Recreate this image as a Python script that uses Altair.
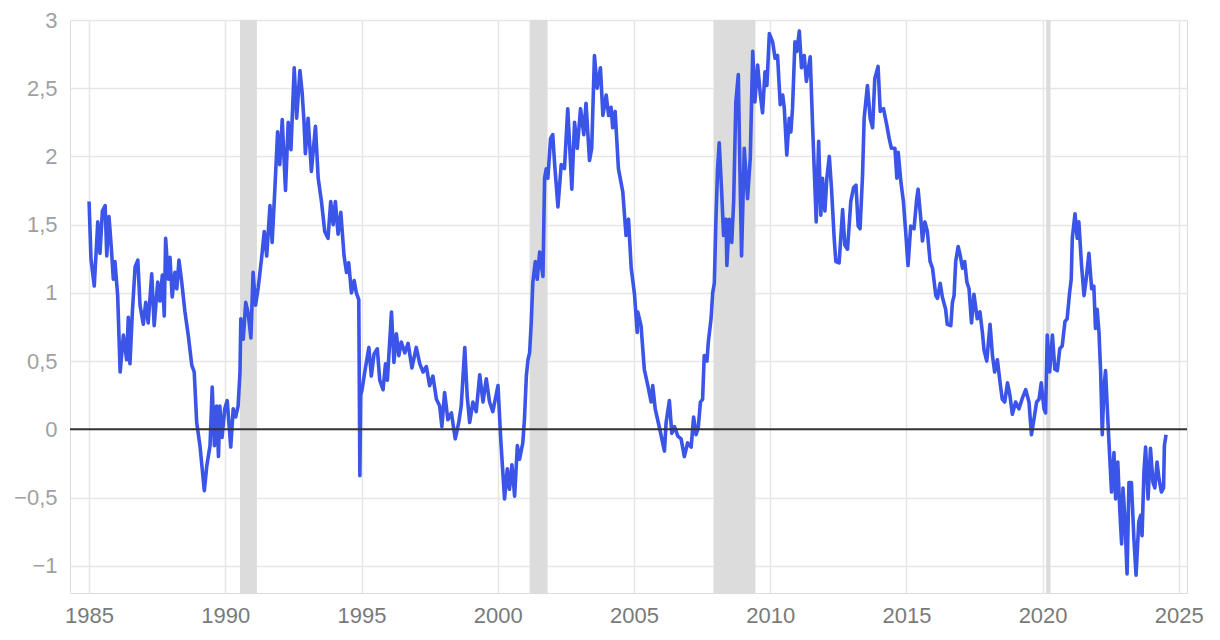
import altair as alt
import pandas as pd

# Decimal year of each reading and the spread value (percentage points)
years = [
    1985.00, 1985.07, 1985.19, 1985.32, 1985.40, 1985.49, 1985.59, 1985.65, 1985.73, 1985.81,
    1985.89, 1985.95, 1986.05, 1986.14, 1986.26, 1986.38, 1986.44, 1986.50, 1986.59, 1986.69,
    1986.79, 1986.87, 1986.99, 1987.08, 1987.17, 1987.30, 1987.39, 1987.52, 1987.60, 1987.69,
    1987.76, 1987.81, 1987.91, 1987.97, 1988.05, 1988.15, 1988.22, 1988.30, 1988.40, 1988.52,
    1988.64, 1988.77, 1988.86, 1988.95, 1989.07, 1989.23, 1989.32, 1989.44, 1989.52, 1989.60,
    1989.68, 1989.75, 1989.80, 1989.88, 1989.98, 1990.07, 1990.20, 1990.29, 1990.38, 1990.47,
    1990.54, 1990.57, 1990.66, 1990.75, 1990.84, 1990.94, 1991.02, 1991.11, 1991.21, 1991.33,
    1991.43, 1991.52, 1991.64, 1991.72, 1991.82, 1991.92, 1992.00, 1992.09, 1992.21, 1992.31,
    1992.41, 1992.53, 1992.62, 1992.74, 1992.82, 1992.89, 1992.94, 1993.04, 1993.16, 1993.31,
    1993.41, 1993.53, 1993.65, 1993.77, 1993.87, 1993.96, 1994.04, 1994.14, 1994.24, 1994.36,
    1994.45, 1994.53, 1994.63, 1994.73, 1994.81, 1994.90, 1994.94, 1994.97, 1995.02, 1995.12,
    1995.27, 1995.36, 1995.46, 1995.58, 1995.67, 1995.79, 1995.88, 1995.95, 1996.10, 1996.19,
    1996.28, 1996.37, 1996.46, 1996.59, 1996.71, 1996.85, 1997.01, 1997.14, 1997.26, 1997.38,
    1997.50, 1997.62, 1997.75, 1997.87, 1997.95, 1998.05, 1998.17, 1998.30, 1998.44, 1998.57,
    1998.66, 1998.79, 1998.88, 1998.97, 1999.09, 1999.21, 1999.34, 1999.46, 1999.58, 1999.70,
    1999.82, 2000.01, 2000.11, 2000.15, 2000.25, 2000.35, 2000.43, 2000.52, 2000.62, 2000.72,
    2000.80, 2000.92, 2000.98, 2001.05, 2001.11, 2001.17, 2001.23, 2001.29, 2001.38, 2001.45,
    2001.54, 2001.66, 2001.72, 2001.78, 2001.84, 2001.94, 2002.02, 2002.09, 2002.21, 2002.33,
    2002.45, 2002.57, 2002.67, 2002.72, 2002.82, 2002.92, 2003.04, 2003.16, 2003.24, 2003.37,
    2003.45, 2003.55, 2003.65, 2003.77, 2003.86, 2003.98, 2004.07, 2004.16, 2004.22, 2004.31,
    2004.43, 2004.59, 2004.71, 2004.80, 2004.90, 2005.02, 2005.12, 2005.14, 2005.26, 2005.38,
    2005.51, 2005.63, 2005.69, 2005.78, 2005.87, 2005.97, 2006.12, 2006.18, 2006.30, 2006.39,
    2006.49, 2006.61, 2006.73, 2006.85, 2006.97, 2007.10, 2007.19, 2007.28, 2007.36, 2007.44,
    2007.52, 2007.58, 2007.68, 2007.73, 2007.83, 2007.89, 2007.95, 2008.01, 2008.07, 2008.13,
    2008.22, 2008.29, 2008.38, 2008.41, 2008.50, 2008.59, 2008.66, 2008.74, 2008.83, 2008.90,
    2008.95, 2009.05, 2009.17, 2009.27, 2009.36, 2009.44, 2009.54, 2009.64, 2009.72, 2009.81,
    2009.88, 2009.97, 2010.09, 2010.18, 2010.27, 2010.37, 2010.46, 2010.52, 2010.61, 2010.70,
    2010.76, 2010.82, 2010.91, 2010.98, 2011.07, 2011.15, 2011.25, 2011.33, 2011.47, 2011.56,
    2011.64, 2011.69, 2011.78, 2011.86, 2011.92, 2012.01, 2012.08, 2012.17, 2012.25, 2012.35,
    2012.41, 2012.53, 2012.66, 2012.74, 2012.84, 2012.96, 2013.06, 2013.15, 2013.23, 2013.30,
    2013.39, 2013.45, 2013.57, 2013.67, 2013.76, 2013.84, 2013.96, 2014.04, 2014.16, 2014.28,
    2014.37, 2014.45, 2014.58, 2014.65, 2014.70, 2014.80, 2014.89, 2014.98, 2015.06, 2015.16,
    2015.28, 2015.38, 2015.43, 2015.53, 2015.59, 2015.68, 2015.77, 2015.87, 2015.96, 2016.08,
    2016.14, 2016.24, 2016.32, 2016.44, 2016.50, 2016.63, 2016.69, 2016.75, 2016.81, 2016.90,
    2016.97, 2017.06, 2017.14, 2017.22, 2017.30, 2017.39, 2017.48, 2017.60, 2017.70, 2017.79,
    2017.85, 2017.95, 2018.07, 2018.16, 2018.24, 2018.34, 2018.44, 2018.52, 2018.61, 2018.71,
    2018.80, 2018.89, 2019.01, 2019.13, 2019.26, 2019.38, 2019.50, 2019.59, 2019.68, 2019.78,
    2019.87, 2019.95, 2020.05, 2020.11, 2020.17, 2020.26, 2020.36, 2020.45, 2020.54, 2020.63,
    2020.72, 2020.82, 2020.90, 2020.99, 2021.05, 2021.09, 2021.19, 2021.27, 2021.33, 2021.43,
    2021.52, 2021.60, 2021.70, 2021.80, 2021.88, 2021.94, 2022.00, 2022.07, 2022.13, 2022.19,
    2022.25, 2022.31, 2022.40, 2022.46, 2022.53, 2022.62, 2022.68, 2022.76, 2022.83, 2022.90,
    2022.95, 2023.02, 2023.10, 2023.17, 2023.26, 2023.35, 2023.43, 2023.53, 2023.60, 2023.65,
    2023.72, 2023.78, 2023.87, 2023.96, 2024.05, 2024.12, 2024.20, 2024.27, 2024.36, 2024.44,
    2024.47, 2024.53,
]

spread = [
    1.67, 1.25, 1.05, 1.52, 1.29, 1.60, 1.64, 1.27, 1.56, 1.35,
    1.10, 1.23, 0.98, 0.42, 0.69, 0.51, 0.82, 0.48, 0.86, 1.19,
    1.24, 0.91, 0.77, 0.93, 0.78, 1.14, 0.76, 1.08, 0.94, 1.13,
    0.83, 1.40, 1.10, 1.26, 0.97, 1.15, 1.03, 1.24, 1.08, 0.86,
    0.69, 0.47, 0.42, 0.05, -0.12, -0.45, -0.27, -0.12, 0.31, -0.12,
    0.17, -0.20, 0.17, -0.06, 0.15, 0.21, -0.13, 0.15, 0.09, 0.17,
    0.42, 0.81, 0.66, 0.93, 0.85, 0.67, 1.15, 0.91, 1.04, 1.25,
    1.45, 1.27, 1.64, 1.37, 1.76, 2.18, 1.94, 2.27, 1.75, 2.25,
    2.05, 2.65, 2.28, 2.63, 2.47, 2.25, 2.02, 2.28, 1.89, 2.22,
    1.84, 1.67, 1.45, 1.40, 1.67, 1.50, 1.67, 1.43, 1.59, 1.27,
    1.15, 1.22, 1.00, 1.09, 1.00, 0.95, -0.34, 0.25, 0.29, 0.42,
    0.60, 0.39, 0.55, 0.59, 0.36, 0.29, 0.48, 0.36, 0.86, 0.49,
    0.70, 0.54, 0.64, 0.56, 0.63, 0.45, 0.60, 0.48, 0.42, 0.46,
    0.32, 0.39, 0.22, 0.17, 0.02, 0.27, 0.07, 0.12, -0.07, 0.05,
    0.17, 0.60, 0.24, 0.05, 0.20, 0.13, 0.40, 0.20, 0.37, 0.20,
    0.13, 0.32, -0.07, -0.20, -0.51, -0.29, -0.44, -0.26, -0.49, -0.12,
    -0.22, -0.10, 0.07, 0.39, 0.51, 0.56, 0.78, 1.08, 1.23, 1.10,
    1.30, 1.12, 1.84, 1.91, 1.84, 2.13, 2.16, 1.94, 1.63, 1.94,
    1.91, 2.35, 1.96, 1.76, 2.25, 2.06, 2.35, 2.16, 2.39, 1.97,
    2.06, 2.74, 2.50, 2.65, 2.30, 2.45, 2.30, 2.36, 2.21, 2.33,
    1.91, 1.74, 1.42, 1.54, 1.18, 0.99, 0.71, 0.86, 0.76, 0.44,
    0.32, 0.20, 0.32, 0.15, 0.07, -0.02, -0.16, 0.05, 0.21, -0.03,
    0.02, -0.05, -0.07, -0.20, -0.10, -0.13, 0.09, -0.04, 0.01, 0.20,
    0.22, 0.54, 0.50, 0.64, 0.81, 1.00, 1.07, 1.54, 1.91, 2.10,
    1.74, 1.42, 1.54, 1.20, 1.54, 1.37, 1.67, 2.40, 2.60, 1.79,
    1.27, 2.06, 1.69, 1.99, 2.77, 2.40, 2.67, 2.45, 2.32, 2.62,
    2.52, 2.90, 2.84, 2.72, 2.74, 2.38, 2.45, 2.35, 2.01, 2.28,
    2.18, 2.35, 2.84, 2.77, 2.92, 2.65, 2.74, 2.55, 2.73, 2.21,
    1.79, 1.52, 2.11, 1.57, 1.84, 1.60, 1.84, 2.00, 1.77, 1.40,
    1.23, 1.22, 1.61, 1.35, 1.32, 1.67, 1.77, 1.79, 1.49, 1.47,
    1.86, 2.28, 2.52, 2.28, 2.21, 2.57, 2.66, 2.33, 2.35, 2.23,
    2.13, 2.06, 2.06, 1.84, 2.03, 1.81, 1.67, 1.43, 1.20, 1.49,
    1.47, 1.69, 1.76, 1.54, 1.38, 1.52, 1.45, 1.23, 1.18, 0.98,
    0.96, 1.07, 0.97, 0.88, 0.77, 0.76, 0.93, 0.98, 1.23, 1.34,
    1.28, 1.18, 1.23, 1.08, 1.03, 0.78, 0.99, 0.81, 0.86, 0.71,
    0.58, 0.50, 0.77, 0.54, 0.42, 0.51, 0.34, 0.22, 0.20, 0.34,
    0.25, 0.11, 0.20, 0.15, 0.23, 0.29, 0.20, -0.04, 0.07, 0.20,
    0.22, 0.34, 0.15, 0.12, 0.69, 0.42, 0.69, 0.44, 0.43, 0.59,
    0.61, 0.79, 0.81, 1.00, 1.10, 1.40, 1.58, 1.40, 1.52, 1.20,
    0.98, 1.10, 1.29, 1.03, 1.05, 0.74, 0.88, 0.71, 0.42, -0.04,
    0.30, 0.43, 0.05, -0.19, -0.46, -0.17, -0.51, -0.24, -0.58, -0.84,
    -0.43, -0.65, -1.06, -0.39, -0.39, -0.80, -1.07, -0.68, -0.63, -0.78,
    -0.31, -0.13, -0.51, -0.14, -0.39, -0.43, -0.24, -0.36, -0.46, -0.43,
    -0.12, -0.04,
]

# Recession periods (shaded bands)
rec_start = [1990.54, 2001.17, 2007.92, 2020.13]
rec_end = [1991.16, 2001.83, 2009.46, 2020.29]

x_ticks = [1985, 1990, 1995, 2000, 2005, 2010, 2015, 2020, 2025]
y_ticks = [-1, -0.5, 0, 0.5, 1, 1.5, 2, 2.5, 3]

series = pd.DataFrame({"year": years, "spread": spread})
recessions = pd.DataFrame({"start": rec_start, "end": rec_end})

W, H = 1117, 573
x_scale = alt.Scale(domain=[1984.3, 2025.3], nice=False, zero=False)
y_scale = alt.Scale(domain=[-1.2, 3], nice=False, zero=False)

FONT = "Liberation Sans"

x_axis = alt.Axis(
    values=x_ticks, format="d", title=None, grid=True, domain=False, ticks=False,
    labelFontSize=22, labelColor="#7a7a7a", labelPadding=12, labelFont=FONT,
    gridColor="#e6e6e6", gridWidth=1.5, labelFlush=False,
)
y_axis = alt.Axis(
    values=y_ticks, format="~g", labelExpr="replace(datum.label, '.', ',')",
    title=None, grid=True, domain=False, ticks=False,
    labelFontSize=22, labelColor="#a0a0a0", labelPadding=13, labelFont=FONT,
    gridColor="#e6e6e6", gridWidth=1.5, labelFlush=False,
)

bands = alt.Chart(recessions).mark_rect(color="#dcdcdc").encode(
    x=alt.X("start:Q", scale=x_scale, axis=x_axis),
    x2="end:Q",
    y=alt.value(0),
    y2=alt.value(H),
)

line = alt.Chart(series).mark_line(color="#3a55e8", strokeWidth=3.6, strokeJoin="round").encode(
    x=alt.X("year:Q", scale=x_scale, axis=x_axis),
    y=alt.Y("spread:Q", scale=y_scale, axis=y_axis),
)

zero = alt.Chart(pd.DataFrame({"z": [0]})).mark_rule(color="#333333", strokeWidth=2).encode(
    y=alt.Y("z:Q", scale=y_scale, axis=y_axis),
)

chart = alt.layer(bands, line, zero).properties(
    width=W,
    height=H,
    autosize=alt.AutoSizeParams(type="none"),
    padding={"left": 70, "top": 20, "right": 33, "bottom": 47},
).configure_view(strokeWidth=0).configure(background="white")

chart.save("out.html", embed_options={"renderer": "svg", "actions": False})
